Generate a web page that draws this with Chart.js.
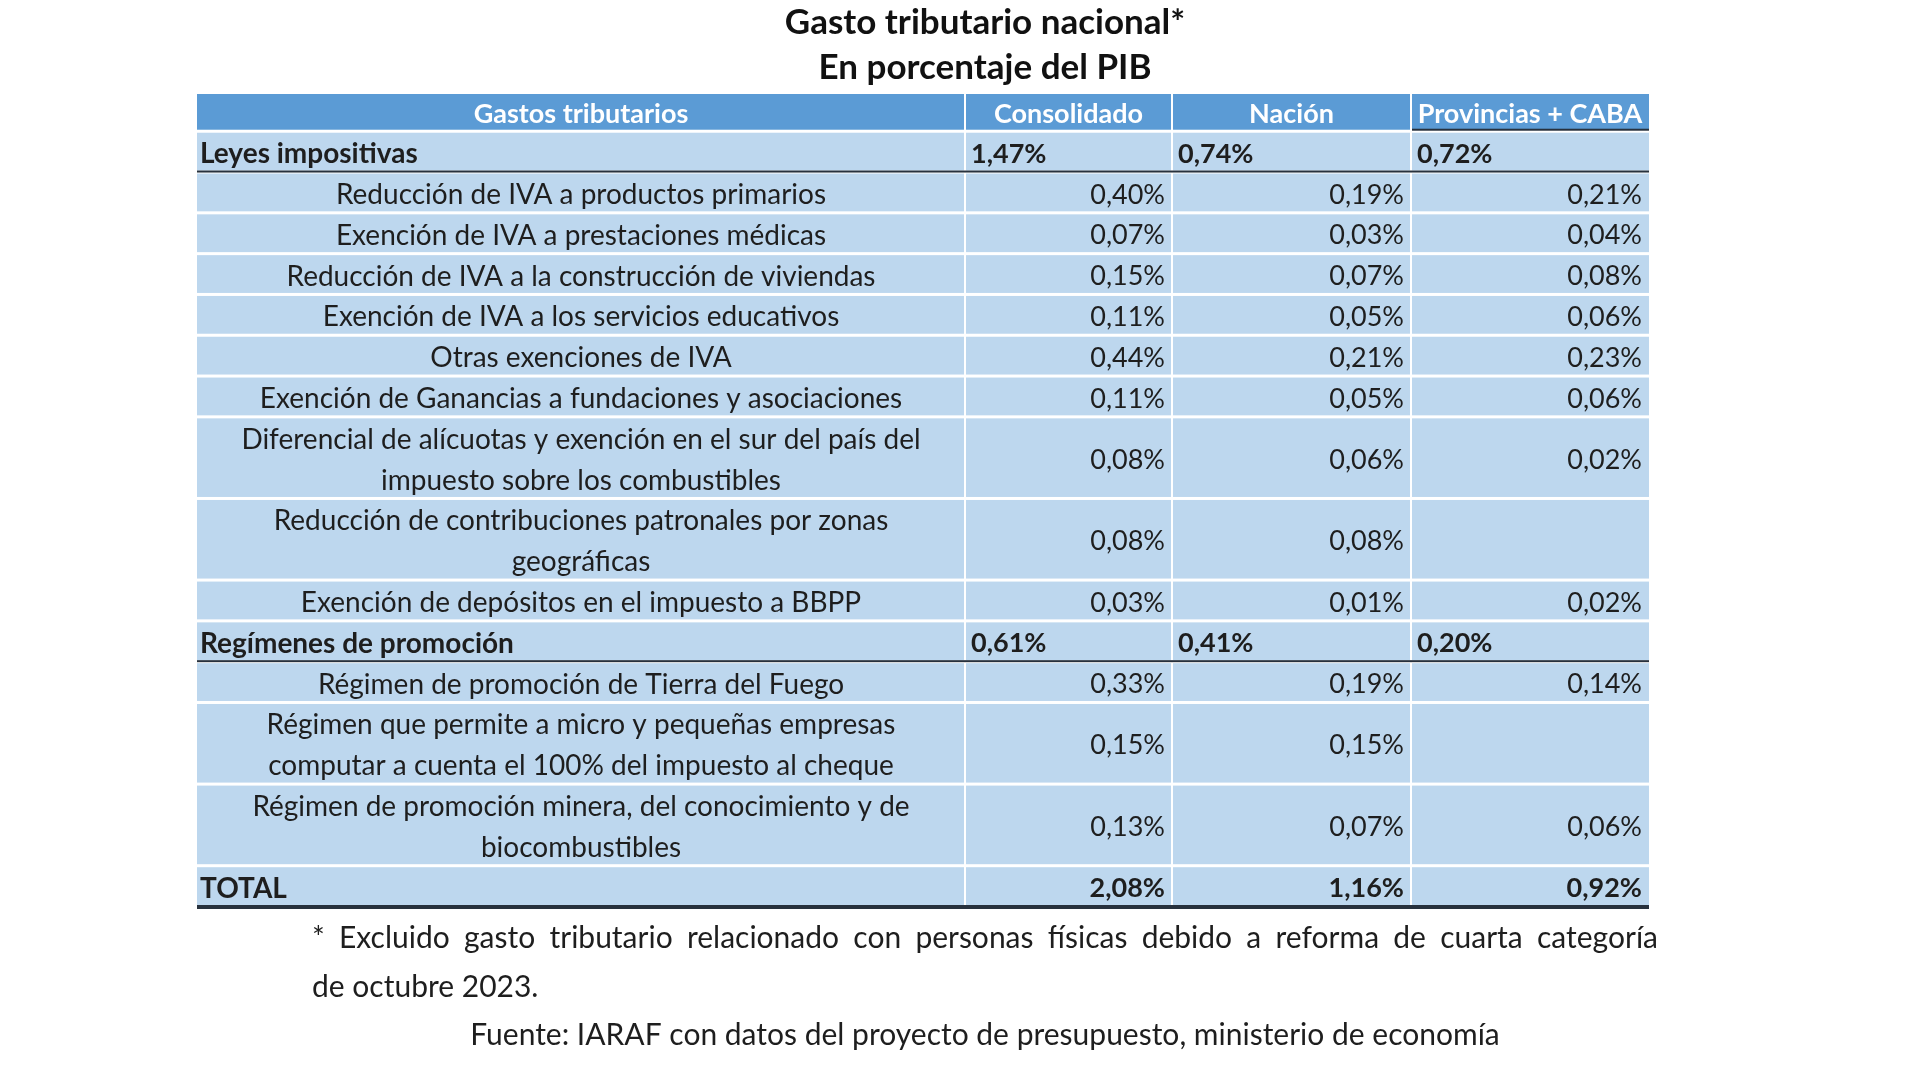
<!DOCTYPE html>
<html>
<head>
<meta charset="utf-8">
<script src="https://cdn.jsdelivr.net/npm/chart.js@4.4.1/dist/chart.umd.min.js"></script>
<style>
  html, body { margin: 0; padding: 0; background: #fff; overflow: hidden; }
  #wrap { width: 1920px; height: 1081px; }
</style>
</head>
<body>
<div id="wrap"><canvas id="grafico" width="1920" height="1081"></canvas></div>
<script>
//Datos de la tabla
const titulo = ['Gasto tributario nacional*', 'En porcentaje del PIB']
const encabezados = ['Gastos tributarios', 'Consolidado', 'Nación', 'Provincias + CABA']
const filas = [
    ['Leyes impositivas'],
    ['Reducción de IVA a productos primarios'],
    ['Exención de IVA a prestaciones médicas'],
    ['Reducción de IVA a la construcción de viviendas'],
    ['Exención de IVA a los servicios educativos'],
    ['Otras exenciones de IVA'],
    ['Exención de Ganancias a fundaciones y asociaciones'],
    ['Diferencial de alícuotas y exención en el sur del país del', 'impuesto sobre los combustibles'],
    ['Reducción de contribuciones patronales por zonas', 'geográficas'],
    ['Exención de depósitos en el impuesto a BBPP'],
    ['Regímenes de promoción'],
    ['Régimen de promoción de Tierra del Fuego'],
    ['Régimen que permite a micro y pequeñas empresas', 'computar a cuenta el 100% del impuesto al cheque'],
    ['Régimen de promoción minera, del conocimiento y de', 'biocombustibles'],
    ['TOTAL']
]
const tipos = ['grupo', 'item', 'item', 'item', 'item', 'item', 'item', 'item', 'item', 'item',
    'grupo', 'item', 'item', 'item', 'total']
const consolidado = [1.47, 0.40, 0.07, 0.15, 0.11, 0.44, 0.11, 0.08, 0.08, 0.03, 0.61, 0.33, 0.15, 0.13, 2.08]
const nacion = [0.74, 0.19, 0.03, 0.07, 0.05, 0.21, 0.05, 0.06, 0.08, 0.01, 0.41, 0.19, 0.15, 0.07, 1.16]
const provincias = [0.72, 0.21, 0.04, 0.08, 0.06, 0.23, 0.06, 0.02, null, 0.02, 0.20, 0.14, null, 0.06, 0.92]
const nota = ['* Excluido gasto tributario relacionado con personas físicas debido a reforma de cuarta categoría',
    'de octubre 2023.']
const fuente = 'Fuente: IARAF con datos del proyecto de presupuesto, ministerio de economía'

//Layout (no son datos)
const bordesCol = [0, 768, 975, 1214, 1452]   // unidades del eje x
const ALTO_ENC = 0.9                            // alto del encabezado en renglones
const AZUL_ENC = '#5b9bd5'
const AZUL_CELDA = '#bdd7ee'
const LINEA = '#27313d'
const TEXTO = '#1e1e1e'
const FUENTE = 'Lato, "Open Sans", sans-serif'

//Posicion vertical de cada fila (en renglones)
const inicioFila = []
let acum = ALTO_ENC
filas.forEach(f => { inicioFila.push(acum); acum += f.length })
const totalRenglones = acum

const fmt = v => v === null ? '' : v.toFixed(2).replace('.', ',') + '%'

const columnas = [consolidado, nacion, provincias]
const datasets = columnas.map((serie, c) => ({
    label: encabezados[c + 1],
    data: serie.map((v, i) => ({ x: bordesCol[c + 2], y: inicioFila[i] + filas[i].length / 2, v: v })),
    pointRadius: 0,
    showLine: false
}))

//Plugin que dibuja la tabla usando las escalas
const tabla = {
    id: 'tabla',
    beforeDatasetsDraw(chart) {
        const { ctx, scales: { x, y } } = chart
        const X = v => x.getPixelForValue(v)
        const Y = v => y.getPixelForValue(v)
        ctx.save()
        // encabezado
        ctx.fillStyle = AZUL_ENC
        ctx.fillRect(X(0), Y(0), X(bordesCol[4]) - X(0), Y(ALTO_ENC) - Y(0))
        // cuerpo
        ctx.fillStyle = AZUL_CELDA
        ctx.fillRect(X(0), Y(ALTO_ENC), X(bordesCol[4]) - X(0), Y(totalRenglones) - Y(ALTO_ENC))
        // separadores blancos
        ctx.fillStyle = '#ffffff'
        for (let c = 1; c < 4; c++) ctx.fillRect(X(bordesCol[c]) - 1, Y(0), 2, Y(totalRenglones) - Y(0))
        ctx.fillRect(X(0), Y(ALTO_ENC) - 1, X(bordesCol[4]) - X(0), 3)
        filas.forEach((f, i) => {
            if (i > 0) ctx.fillRect(X(0), Y(inicioFila[i]) - 1, X(bordesCol[4]) - X(0), 3)
        })
        // lineas oscuras
        ctx.fillStyle = LINEA
        ctx.fillRect(X(bordesCol[3]) + 1, Y(ALTO_ENC) - 2, X(bordesCol[4]) - X(bordesCol[3]) - 1, 2)
        filas.forEach((f, i) => {
            if (tipos[i] === 'grupo') ctx.fillRect(X(0), Y(inicioFila[i] + 1) - 1, X(bordesCol[4]) - X(0), 2)
            if (tipos[i] === 'total') ctx.fillRect(X(0), Y(inicioFila[i] + 1) - 1, X(bordesCol[4]) - X(0), 4)
        })
        // textos del encabezado
        ctx.fillStyle = '#ffffff'
        ctx.font = 'bold 27px ' + FUENTE
        ctx.textAlign = 'center'
        ctx.textBaseline = 'middle'
        encabezados.forEach((t, c) => {
            ctx.fillText(t, (X(bordesCol[c]) + X(bordesCol[c + 1])) / 2, Y(ALTO_ENC / 2) + 2)
        })
        // etiquetas de filas
        ctx.fillStyle = TEXTO
        filas.forEach((f, i) => {
            if (tipos[i] === 'item') {
                ctx.font = '28px ' + FUENTE
                ctx.textAlign = 'center'
                f.forEach((linea, k) => ctx.fillText(linea, (X(0) + X(bordesCol[1])) / 2, Y(inicioFila[i] + k + 0.5) + 3))
            } else {
                ctx.font = 'bold 28px ' + FUENTE
                ctx.textAlign = 'left'
                ctx.fillText(f[0], X(0) + 3, Y(inicioFila[i] + 0.5) + 3)
            }
        })
        ctx.restore()
    },
    afterDatasetsDraw(chart) {
        const { ctx, scales: { x } } = chart
        ctx.save()
        ctx.fillStyle = TEXTO
        ctx.textBaseline = 'middle'
        chart.data.datasets.forEach((ds, c) => {
            const meta = chart.getDatasetMeta(c)
            meta.data.forEach((pt, i) => {
                const v = ds.data[i].v
                if (tipos[i] === 'grupo') {
                    ctx.font = 'bold 27px ' + FUENTE
                    ctx.textAlign = 'left'
                    ctx.fillText(fmt(v), x.getPixelForValue(bordesCol[c + 1]) + 6, pt.y + 3)
                } else {
                    ctx.font = (tipos[i] === 'total' ? 'bold ' : '') + '27px ' + FUENTE
                    ctx.textAlign = 'right'
                    ctx.fillText(fmt(v), pt.x - 7, pt.y + 3)
                }
            })
        })
        ctx.restore()
    },
    afterDraw(chart) {
        const { ctx, scales: { x, y } } = chart
        const cx = x.getPixelForValue(788)
        ctx.save()
        ctx.fillStyle = '#111111'
        ctx.textBaseline = 'middle'
        ctx.textAlign = 'center'
        ctx.font = 'bold 35px ' + FUENTE
        ctx.fillText(titulo[0], cx, y.getPixelForValue(0) - 71)
        ctx.fillText(titulo[1], cx, y.getPixelForValue(0) - 26)
        // nota al pie justificada
        ctx.font = '30px ' + FUENTE
        ctx.fillStyle = TEXTO
        ctx.textAlign = 'left'
        const izq = x.getPixelForValue(115)
        const der = x.getPixelForValue(1461)
        const base = y.getPixelForValue(totalRenglones)
        const palabras = nota[0].split(' ')
        const anchoPal = palabras.reduce((s, p) => s + ctx.measureText(p).width, 0)
        const esp = (der - izq - anchoPal) / (palabras.length - 1)
        let px = izq
        palabras.forEach(p => { ctx.fillText(p, px, base + 32); px += ctx.measureText(p).width + esp })
        ctx.fillText(nota[1], izq, base + 81)
        ctx.textAlign = 'center'
        ctx.fillText(fuente, cx, base + 129)
        ctx.restore()
    }
}

const ctx = document.getElementById('grafico').getContext('2d')
new Chart(ctx, {
    type: 'scatter',
    data: { datasets: datasets },
    options: {
        responsive: false,
        animation: false,
        layout: { padding: { top: 94, bottom: 175, left: 197, right: 271 } },
        plugins: { legend: { display: false }, tooltip: { enabled: false }, title: { display: false } },
        scales: {
            x: { type: 'linear', display: false, min: 0, max: bordesCol[4] },
            y: { type: 'linear', display: false, min: 0, max: totalRenglones, reverse: true }
        }
    },
    plugins: [tabla]
})
</script>
</body>
</html>
